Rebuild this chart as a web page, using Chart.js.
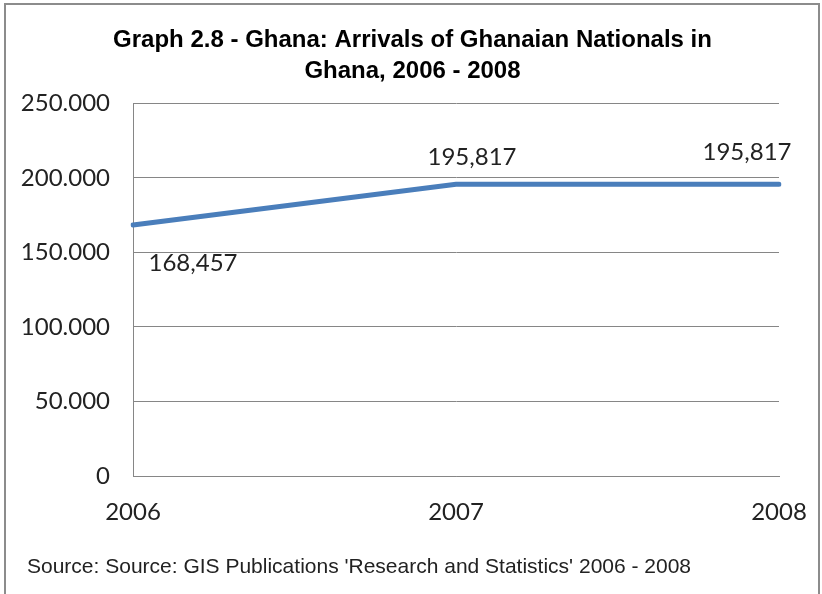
<!DOCTYPE html>
<html>
<head>
<meta charset="utf-8">
<script src="https://cdn.jsdelivr.net/npm/chart.js@4"></script>
<style>
  html, body { margin: 0; padding: 0; background: #fff; }
</style>
</head>
<body>
<canvas id="grafico" width="822" height="594"></canvas>
<script>
// data
const years = ["2006", "2007", "2008"];
const arrivals = [168457, 195817, 195817];
const titleLines = ["Graph 2.8 - Ghana: Arrivals of Ghanaian Nationals in", "Ghana, 2006 - 2008"];
const sourceText = "Source: Source: GIS Publications 'Research and Statistics' 2006 - 2008";

const tickFont = { family: "Lato", size: 24 };
const textColor = "#222";

// thousands separator helpers
const withDots = v => String(v).replace(/\B(?=(\d{3})+(?!\d))/g, ".");
const withCommas = v => String(v).replace(/\B(?=(\d{3})+(?!\d))/g, ",");

// value labels next to each point, offsets as in the Excel original
const labelOffsets = [[60, 38], [16, -27], [-32, -32]];
const valueLabels = {
    id: "valueLabels",
    afterDatasetsDraw(chart) {
        const ctx = chart.ctx;
        const meta = chart.getDatasetMeta(0);
        ctx.save();
        ctx.font = tickFont.size + "px " + tickFont.family;
        ctx.fillStyle = textColor;
        ctx.textAlign = "center";
        ctx.textBaseline = "middle";
        meta.data.forEach((pt, i) => {
            const off = labelOffsets[i];
            ctx.fillText(withCommas(arrivals[i]), pt.x + off[0], pt.y + off[1]);
        });
        ctx.restore();
    }
};

// white background, grey outer frame and the source note under the axis
const frame = {
    id: "frame",
    beforeDraw(chart) {
        const ctx = chart.ctx;
        ctx.save();
        ctx.fillStyle = "#fff";
        ctx.fillRect(0, 0, chart.width, chart.height);
        ctx.strokeStyle = "#8c8c8c";
        ctx.lineWidth = 2;
        ctx.strokeRect(5, 4, 814, 700);
        ctx.restore();
    },
    afterDraw(chart) {
        const ctx = chart.ctx;
        ctx.save();
        ctx.font = "21px 'Liberation Sans'";
        ctx.fillStyle = "#222";
        ctx.textAlign = "left";
        ctx.textBaseline = "middle";
        ctx.fillText(sourceText, 27, chart.chartArea.bottom + 91);
        ctx.restore();
    }
};

const ctx = document.getElementById("grafico").getContext("2d");
new Chart(ctx, {
    type: "line",
    data: {
        labels: years,
        datasets: [{
            label: "Arrivals",
            data: arrivals,
            borderColor: "#4A7EBB",
            borderWidth: 5,
            borderCapStyle: "round",
            pointRadius: 0,
            tension: 0,
            fill: false
        }]
    },
    options: {
        responsive: false,
        animation: false,
        layout: {
            autoPadding: false,
            padding: { left: 18, right: 15, top: 0, bottom: 58 }
        },
        plugins: {
            legend: { display: false },
            tooltip: { enabled: false },
            title: {
                display: true,
                text: titleLines,
                color: "#000",
                font: { family: "Liberation Sans", size: 24, weight: "bold", lineHeight: 1.28 },
                padding: { top: 25, bottom: 17 }
            }
        },
        scales: {
            x: {
                offset: false,
                grid: { display: false, drawTicks: false },
                border: { display: true, color: "#868686", width: 1 },
                ticks: { font: tickFont, color: textColor, padding: 22, maxRotation: 0, autoSkip: false },
                afterFit: s => {
                    s.height = 60;
                    // room right of the plot, as in the original
                    s.paddingLeft = 0;
                    s.paddingRight = 43;
                }
            },
            y: {
                min: 0,
                max: 250000,
                grid: { color: "#868686", lineWidth: 1, drawTicks: false },
                border: { display: true, color: "#868686", width: 1 },
                ticks: {
                    stepSize: 50000,
                    font: tickFont,
                    color: textColor,
                    padding: 23,
                    callback: v => withDots(v)
                },
                afterFit: s => { s.width = 115; }
            }
        }
    },
    plugins: [frame, valueLabels]
});
</script>
</body>
</html>
